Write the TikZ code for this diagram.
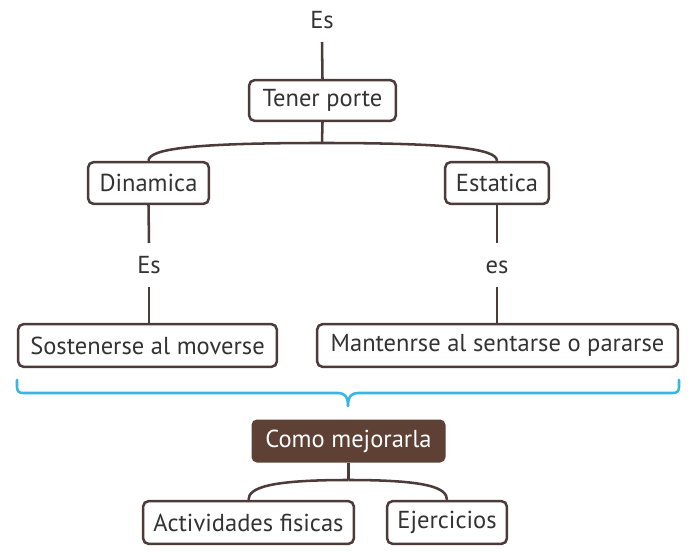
\documentclass[tikz,border=0pt]{standalone}
\usepackage{fontspec}
\setmainfont{PT Sans}
\definecolor{linec}{HTML}{4D3B3B}
\definecolor{fillc}{HTML}{5E4035}
\definecolor{bluec}{HTML}{36B6E0}
\definecolor{textc}{HTML}{333333}
\begin{document}
\begin{tikzpicture}[x=0.75pt,y=-0.75pt,
  font=\fontsize{18.4}{22}\selectfont,
  box/.style={draw=linec,line width=1.9pt,rounded corners=4pt,fill=white,text=textc,inner sep=0pt},
  dark/.style={fill=fillc,rounded corners=4pt,text=white,inner sep=0pt},
  lbl/.style={text=textc,inner sep=0pt,text height=12.9pt,text depth=0pt},
  conn/.style={draw=linec,line width=1.9pt},
  brace/.style={draw=bluec,line width=1.9pt}]
\useasboundingbox (0,0) rectangle (692,552);
\node[lbl] (es0) at (322,20) {Es};
\node[box,minimum width=110pt,minimum height=30.5pt] (tener) at (322.5,100.5) {Tener porte};
\node[box,minimum width=90.5pt,minimum height=31.3pt] (dina) at (148.5,183) {Dinamica};
\node[box,minimum width=77.7pt,minimum height=31.3pt] (esta) at (497,183) {Estatica};
\node[lbl] (es1) at (149,265) {Es};
\node[lbl] (es2) at (497,265) {es};
\node[box,minimum width=194pt,minimum height=32pt] (sost) at (147.5,345.5) {Sostenerse al moverse};
\node[box,minimum width=270.5pt,minimum height=32pt] (mant) at (497.5,345.5) {Mantenrse al sentarse o pararse};
\node[dark,minimum width=145.5pt,minimum height=32.25pt] (como) at (348.5,441) {Como mejorarla};
\node[box,minimum width=158pt,minimum height=32pt] (acti) at (248.5,522.5) {Actividades fisicas};
\node[box,minimum width=89.8pt,minimum height=32pt] (ejer) at (447,522.5) {Ejercicios};
% connectors
\coordinate (es0b) at (322,42);
\draw[conn] (es0b) -- (tener.north);
\coordinate (j1) at (322,143);
\draw[conn] (tener.south) -- (j1);
\draw[conn] (j1) .. controls +(-130,0) and +(0,-12) .. (dina.north);
\draw[conn] (j1) .. controls +(130,0) and +(0,-12) .. (esta.north);
\coordinate (es1t) at (149,243);
\coordinate (es1b) at (149,287);
\coordinate (es2t) at (497,243);
\coordinate (es2b) at (497,287);
\draw[conn] (dina.south) -- (es1t);
\draw[conn] (es1b) -- (sost.north -| es1b);
\draw[conn] (esta.south) -- (es2t);
\draw[conn] (es2b) -- (mant.north -| es2b);
\coordinate (j2) at (348.5,480);
\draw[conn] (como.south) -- (j2);
\draw[conn] (j2) .. controls +(-80,0) and +(0,-12) .. (acti.north);
\draw[conn] (j2) .. controls +(80,0) and +(0,-12) .. (ejer.north);
% brace
\draw[brace,line cap=round] (17,380) -- (17,387) .. controls (17,391) and (19,393) .. (23,393) -- (338,393) .. controls (344,393) and (348,396) .. (348,406);
\draw[brace,line cap=round] (679,380) -- (679,387) .. controls (679,391) and (677,393) .. (673,393) -- (358,393) .. controls (352,393) and (348,396) .. (348,406);
\end{tikzpicture}
\end{document}
